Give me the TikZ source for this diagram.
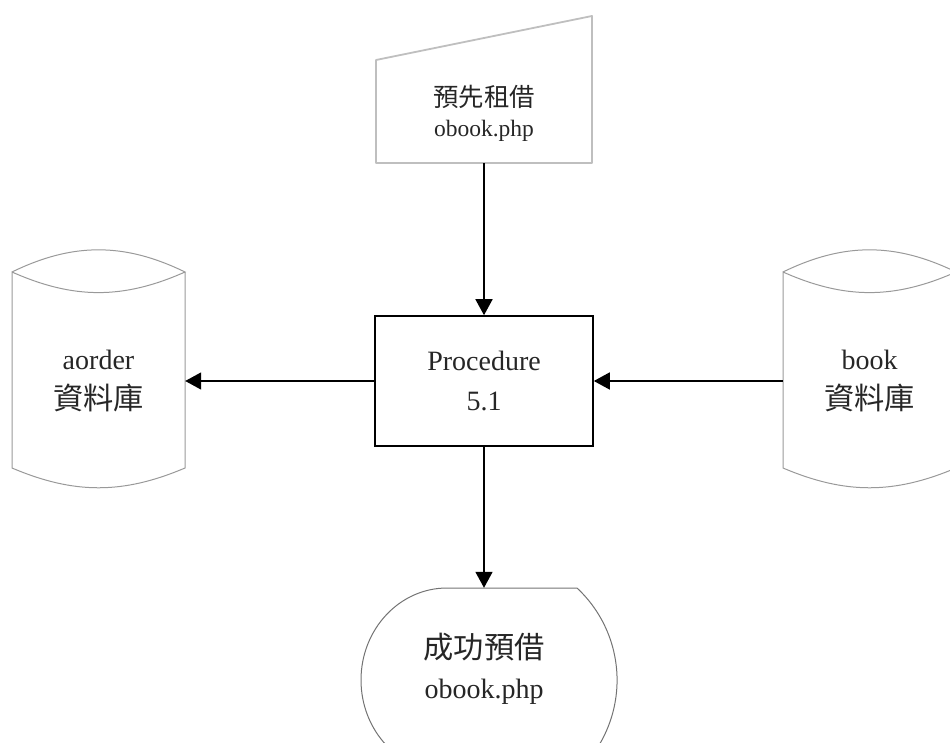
\documentclass[tikz,border=0pt]{standalone}
\usepackage{fontspec}
\setmainfont{Liberation Serif}
\newfontfamily\cjk[Scale=1.08]{Noto Sans CJK TC}
\usetikzlibrary{arrows.meta}

\begin{document}
\begin{tikzpicture}[
    x=1pt, y=1pt, % one unit per pixel of the sketch
    big_text/.style = {align=center, text=black!85, font=\fontsize{28}{40}\selectfont},
    small_text/.style = {align=center, text=black!85, font=\fontsize{23.5}{30}\selectfont},
    line/.style = {-{Triangle[length=16pt,width=17pt]}, draw=black, line width=1.6pt}
    ]
    \tikzstyle{proc_style} = [rectangle, draw=black, line width=1.6pt, minimum width=218pt, minimum height=130pt, inner sep=0pt]
    \tikzstyle{db_style} = [minimum width=173pt, minimum height=180pt, inner sep=0pt]
    \tikzstyle{db_line} = [draw=black!40, line width=1pt]
    \tikzstyle{input_line} = [draw=black!25, line width=1.8pt, line join=round]
    \tikzstyle{display_line} = [draw=black!55, line width=1pt]
    \useasboundingbox (0,0) rectangle (950,-743);

    \node[proc_style, big_text] (proc) at (484,-381) {Procedure\\5.1};
    \node[db_style, big_text] (aorder) at (98.5,-381) {aorder\\{\cjk 資料庫}};
    \node[db_style, big_text] (book) at (869.5,-381) {book\\{\cjk 資料庫}};
    \node[small_text, minimum width=216pt, minimum height=99pt, inner sep=0pt] (pre) at (484,-113.5) {{\cjk 預先租借}\\obook.php};
    \node[big_text, minimum width=130pt, minimum height=162pt, inner sep=0pt] (done) at (484,-669) {{\cjk 成功預借}\\obook.php};

    % outlines of the stores, the input and the display
    \foreach \x in {12, 783} {
        \draw[db_line] (\x,-272) to[bend left=26] (\x+173,-272) to[bend left=24] (\x,-272)
            -- (\x,-468) to[bend right=23] (\x+173,-468) -- (\x+173,-272);
    }
    \draw[input_line] (376,-163) -- (376,-60) -- (592,-16) -- (592,-163) -- cycle;
    \draw[display_line] (447,-588) -- (577,-588) arc[start angle=47, end angle=-47, radius=126]
        -- (447,-772) arc[start angle=270, end angle=90, x radius=86, y radius=92] -- cycle;

    \draw[line] (pre) -- (proc);
    \draw[line] (proc) -- (aorder);
    \draw[line] (book) -- (proc);
    \draw[line] (proc) -- (done);
\end{tikzpicture}
\end{document}
